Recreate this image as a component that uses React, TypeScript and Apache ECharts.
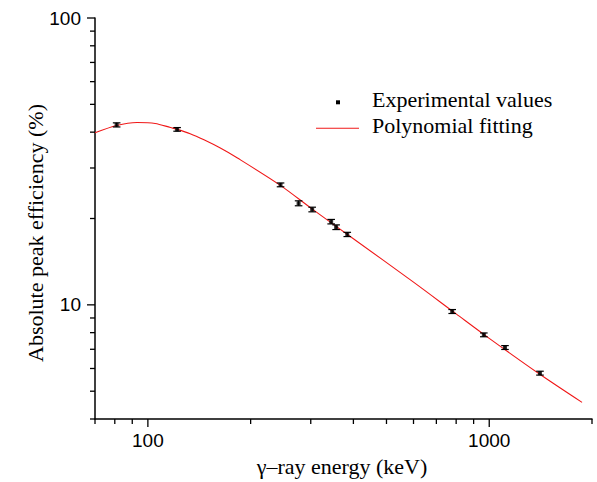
import React, { useEffect, useRef } from "react";
import * as echarts from "echarts";

// Experimental points (energy in keV, efficiency in %)
const expEnergy = [81.0, 121.8, 244.7, 276.4, 302.9, 344.3, 356.0, 383.8, 778.9, 964.1, 1112.1, 1408.0];
const expEff = [42.4, 40.9, 26.2, 22.6, 21.5, 19.5, 18.65, 17.6, 9.48, 7.86, 7.1, 5.78];
const expErr = [0.7, 0.6, 0.4, 0.45, 0.4, 0.35, 0.35, 0.3, 0.15, 0.12, 0.11, 0.09];

// Polynomial fitting curve
const fitEnergy = [70, 81, 93, 105, 116.5, 122, 133, 146, 163, 183, 244.4, 302.5, 400, 600, 800, 1000, 1400, 1870];
const fitEff = [39.8, 42.2, 43.2, 42.9, 41.5, 40.9, 39.5, 37.6, 35.2, 32.5, 26.1, 21.6, 17.0, 12.0, 9.3, 7.64, 5.75, 4.57];

// Axis ranges and ticks
const xMin = 70;
const xMax = 2000;
const yMin = 4;
const yMax = 100;
const xMajorTicks = [100, 1000];
const xMinorTicks = [70, 80, 90, 200, 300, 400, 500, 600, 700, 800, 900, 2000];
const yMajorTicks = [10, 100];
const yMinorTicks = [4, 5, 6, 7, 8, 9, 20, 30, 40, 50, 60, 70, 80, 90];

const seriesNames = ["Experimental values", "Polynomial fitting"];
const xTitle = "γ–ray energy (keV)";
const yTitle = "Absolute peak efficiency (%)";

const SERIF = '"Liberation Serif", "Times New Roman", serif';
const SANS = '"Liberation Sans", Arial, sans-serif';
const RED = "#f01818";

const isPow10 = (v: number) => Math.abs(Math.log10(v) - Math.round(Math.log10(v))) < 1e-6;

export default function App() {
  const ref = useRef<HTMLDivElement>(null);

  useEffect(() => {
    if (!ref.current) return;
    const chart = echarts.init(ref.current, undefined, { renderer: "svg" });

    const tickData: number[][] = [];
    xMajorTicks.forEach((v) => tickData.push([v, yMin, 0, 1]));
    xMinorTicks.forEach((v) => tickData.push([v, yMin, 0, 0]));
    yMajorTicks.forEach((v) => tickData.push([xMin, v, 1, 1]));
    yMinorTicks.forEach((v) => tickData.push([xMin, v, 1, 0]));

    const expData = expEnergy.map((e, i) => [e, expEff[i]]);
    const errData = expEnergy.map((e, i) => [e, expEff[i], expErr[i]]);
    const fitData = fitEnergy.map((e, i) => [e, fitEff[i]]);

    const option: any = {
      animation: false,
      backgroundColor: "#ffffff",
      grid: { left: 95, right: 5, top: 18, bottom: 63, containLabel: false },
      xAxis: {
        type: "log",
        logBase: 10,
        min: xMin,
        max: xMax,
        axisLine: { show: true, onZero: false, lineStyle: { color: "#000", width: 1.5 } },
        axisTick: { show: false },
        splitLine: { show: false },
        minorTick: { show: false },
        axisLabel: {
          margin: 12,
          color: "#000",
          fontSize: 19,
          fontFamily: SANS,
          showMinLabel: true,
          showMaxLabel: true,
          formatter: (v: number) => (isPow10(v) && v >= 100 ? String(Math.round(v)) : ""),
        },
      },
      yAxis: {
        type: "log",
        logBase: 10,
        min: yMin,
        max: yMax,
        axisLine: { show: true, onZero: false, lineStyle: { color: "#000", width: 1.5 } },
        axisTick: { show: false },
        splitLine: { show: false },
        minorTick: { show: false },
        axisLabel: {
          margin: 14,
          color: "#000",
          fontSize: 19,
          fontFamily: SANS,
          formatter: (v: number) => (isPow10(v) && v >= 10 ? String(Math.round(v)) : ""),
        },
      },
      series: [
        {
          name: "ticks",
          type: "custom",
          clip: false,
          silent: true,
          z: 5,
          data: tickData,
          renderItem: (params: any, api: any) => {
            const p = api.coord([api.value(0), api.value(1)]);
            const isY = api.value(2) === 1;
            const len = api.value(3) === 1 ? 8 : 5;
            const shape = isY
              ? { x1: p[0], y1: p[1], x2: p[0] - len, y2: p[1] }
              : { x1: p[0], y1: p[1], x2: p[0], y2: p[1] + len };
            return { type: "line", shape, style: { stroke: "#000", lineWidth: 1.3 } };
          },
        },
        {
          name: seriesNames[1],
          type: "line",
          data: fitData,
          smooth: 0.3,
          symbol: "none",
          showSymbol: false,
          lineStyle: { color: RED, width: 1.1 },
          z: 2,
        },
        {
          name: "errors",
          type: "custom",
          clip: false,
          silent: true,
          z: 3,
          data: errData,
          renderItem: (params: any, api: any) => {
            const x = api.value(0);
            const y = api.value(1);
            const e = api.value(2);
            const top = api.coord([x, y + e]);
            const bot = api.coord([x, y - e]);
            const w = 3.8;
            const st = { stroke: "#000", lineWidth: 1.2 };
            return {
              type: "group",
              children: [
                { type: "line", shape: { x1: top[0], y1: top[1], x2: bot[0], y2: bot[1] }, style: st },
                { type: "line", shape: { x1: top[0] - w, y1: top[1], x2: top[0] + w, y2: top[1] }, style: st },
                { type: "line", shape: { x1: bot[0] - w, y1: bot[1], x2: bot[0] + w, y2: bot[1] }, style: st },
              ],
            };
          },
        },
        {
          name: seriesNames[0],
          type: "scatter",
          data: expData,
          symbol: "rect",
          symbolSize: 4,
          itemStyle: { color: "#000" },
          z: 4,
        },
      ],
      graphic: [
        { type: "rect", shape: { x: 336, y: 100.3, width: 4, height: 4 }, style: { fill: "#000" } },
        {
          type: "text",
          x: 372,
          y: 99,
          style: { text: seriesNames[0], font: `22px ${SERIF}`, fill: "#000", align: "left", verticalAlign: "middle" },
        },
        { type: "line", shape: { x1: 316, y1: 128.3, x2: 359, y2: 128.3 }, style: { stroke: RED, lineWidth: 1.1 } },
        {
          type: "text",
          x: 372,
          y: 125,
          style: { text: seriesNames[1], font: `22px ${SERIF}`, fill: "#000", align: "left", verticalAlign: "middle" },
        },
        {
          type: "text",
          x: 342,
          y: 466,
          style: { text: xTitle, font: `22px ${SERIF}`, fill: "#000", align: "center", verticalAlign: "middle" },
        },
        {
          type: "text",
          x: 35,
          y: 233,
          rotation: Math.PI / 2,
          style: { text: yTitle, font: `22px ${SERIF}`, fill: "#000", align: "center", verticalAlign: "middle" },
        },
      ],
    };

    chart.setOption(option);
    return () => chart.dispose();
  }, []);

  return (
    <div
      ref={ref}
      style={{ position: "fixed", left: 0, top: 0, width: 597, height: 482, background: "#fff" }}
    />
  );
}
